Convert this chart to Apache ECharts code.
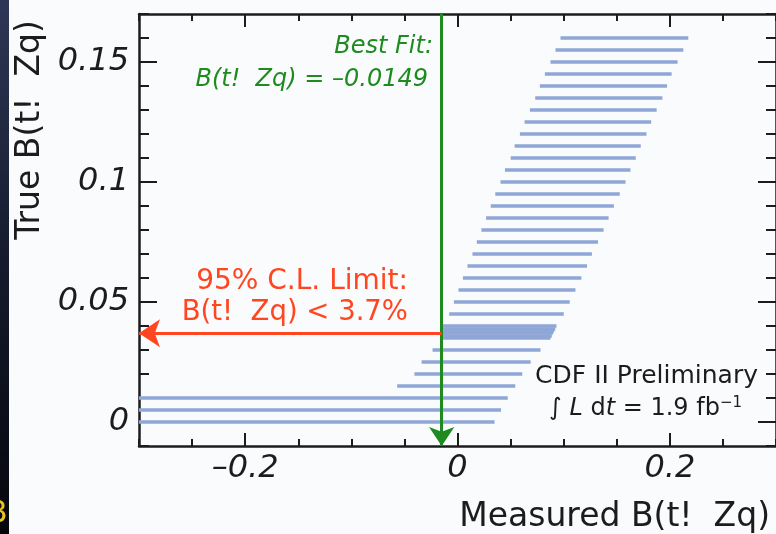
<!DOCTYPE html>
<html>
<head>
<meta charset="utf-8">
<script src="https://cdn.jsdelivr.net/npm/echarts@6/dist/echarts.min.js"></script>
<style>
html,body{margin:0;padding:0;background:#f9fbfc;}
#chart{width:776px;height:534px;}
</style>
</head>
<body>
<div id="chart"></div>
<script>
// True B values of each acceptance band (horizontal segments)
var trueB = [0, 0.005, 0.01, 0.015, 0.02, 0.025, 0.03,
  0.035, 0.036, 0.037, 0.038, 0.039, 0.04,
  0.045, 0.05, 0.055, 0.06, 0.065, 0.07, 0.075, 0.08, 0.085, 0.09, 0.095,
  0.1, 0.105, 0.11, 0.115, 0.12, 0.125, 0.13, 0.135, 0.14, 0.145, 0.15, 0.155, 0.16];
// Lower end of measured range
var measLow = [-0.3, -0.3, -0.3, -0.0568, -0.0406, -0.0338, -0.0235,
  -0.0149, -0.0149, -0.0149, -0.0149, -0.0149, -0.0149,
  -0.0078, -0.0034, 0.0009, 0.0051, 0.0094, 0.0141, 0.0182, 0.0225, 0.0269, 0.0313, 0.0356,
  0.0405, 0.0447, 0.0501, 0.0538, 0.0588, 0.0632, 0.0682, 0.0732, 0.0776, 0.0823, 0.0876, 0.0923, 0.0970];
// Upper end of measured range
var measHigh = [0.0349, 0.0410, 0.0473, 0.0544, 0.0610, 0.0689, 0.0782,
  0.0876, 0.0888, 0.0899, 0.0910, 0.0921, 0.0932,
  0.1001, 0.1057, 0.1111, 0.1167, 0.1220, 0.1266, 0.1323, 0.1376, 0.1423, 0.1473, 0.1528,
  0.1583, 0.1629, 0.1679, 0.1726, 0.1780, 0.1824, 0.1876, 0.1930, 0.1974, 0.2017, 0.2073, 0.2127, 0.2174];
var bestFit = -0.0149;
var limit95 = 0.037;
var xMajorTicks = [-0.2, 0, 0.2];
var yMajorTicks = [0, 0.05, 0.1, 0.15];

var FONT = 'DejaVu Sans';
var AX = '#1c1c1c';

function fmt(v) {
  v = Math.round(v * 1000) / 1000;
  if (v === 0) return '0';
  return (v < 0 ? '\u2013' : '') + String(Math.abs(v));
}

var bandData = trueB.map(function (y, i) {
  return { coords: [[measLow[i], y], [measHigh[i], y]] };
});

function minorAxis(pos, isX, len) {
  return {
    type: 'value', position: pos,
    min: isX ? -0.3 : -0.01, max: isX ? 0.3 : 0.17,
    interval: isX ? 0.05 : 0.01,
    axisLine: { show: true, onZero: false, lineStyle: { color: AX, width: 2.5 } },
    axisTick: { show: true, inside: true, length: len, lineStyle: { color: AX, width: 2 } },
    axisLabel: { show: false },
    splitLine: { show: false }
  };
}
function majorAxis(pos, isX, len, labels) {
  var vals = isX ? xMajorTicks : yMajorTicks;
  return {
    type: 'value', position: pos,
    min: isX ? -0.3 : -0.01, max: isX ? 0.3 : 0.17,
    axisLine: { show: false, onZero: false },
    axisTick: { show: true, inside: true, length: len, customValues: vals, lineStyle: { color: AX, width: 2 } },
    axisLabel: labels ? {
      show: true, customValues: vals, formatter: fmt,
      fontFamily: FONT, fontStyle: 'italic', fontSize: 32, color: AX,
      margin: isX ? 7 : 10
    } : { show: false },
    splitLine: { show: false }
  };
}

var chart = echarts.init(document.getElementById('chart'), null, { renderer: 'canvas' });
chart.setOption({
  backgroundColor: '#f9fbfc',
  animation: false,
  grid: { left: 139, top: 14, width: 638, height: 432, containLabel: false },
  xAxis: [
    minorAxis('bottom', true, 7),
    majorAxis('bottom', true, 13, true),
    minorAxis('top', true, 7),
    majorAxis('top', true, 13, false)
  ],
  yAxis: [
    minorAxis('left', false, 10),
    majorAxis('left', false, 18, true),
    minorAxis('right', false, 10),
    majorAxis('right', false, 18, false)
  ],
  series: [
    {
      type: 'lines', coordinateSystem: 'cartesian2d', xAxisIndex: 0, yAxisIndex: 0,
      polyline: false, symbol: 'none',
      lineStyle: { color: '#8ea7d7', width: 3.5, opacity: 1, cap: 'butt' },
      data: bandData, z: 2
    },
    {
      type: 'lines', coordinateSystem: 'cartesian2d', xAxisIndex: 0, yAxisIndex: 0,
      symbol: ['none', 'arrow'], symbolSize: 19,
      lineStyle: { color: '#1f8a1f', width: 3, opacity: 1 },
      itemStyle: { color: '#1f8a1f' },
      data: [{ coords: [[bestFit, 0.17], [bestFit, -0.01]] }], z: 4
    },
    {
      type: 'lines', coordinateSystem: 'cartesian2d', xAxisIndex: 0, yAxisIndex: 0,
      symbol: ['none', 'arrow'], symbolSize: 21,
      lineStyle: { color: '#ff4620', width: 3, opacity: 1 },
      itemStyle: { color: '#ff4620' },
      data: [{ coords: [[bestFit, limit95], [-0.3, limit95]] }], z: 4
    }
  ],
  graphic: [
    { type: 'rect', shape: { x: 0, y: 0, width: 9, height: 534 }, z: 10,
      style: { fill: new echarts.graphic.LinearGradient(0, 0, 0, 1, [
        { offset: 0, color: '#2e3756' }, { offset: 0.5, color: '#151a2c' }, { offset: 1, color: '#06060c' }]) } },
    { type: 'text', x: -13, y: 514, z: 11,
      style: { text: 'B', font: '30px ' + FONT, fill: '#e8c21e', verticalAlign: 'middle' } },
    { type: 'text', x: 30, y: 130, rotation: Math.PI / 2, z: 11,
      style: { text: 'True B(t!  Zq)', font: '33px ' + FONT, fill: AX, align: 'center', verticalAlign: 'middle' } },
    { type: 'text', x: 770, y: 517, z: 11,
      style: { text: 'Measured B(t!  Zq)', font: '33px ' + FONT, fill: AX, align: 'right', verticalAlign: 'middle' } },
    { type: 'text', x: 433, y: 47, z: 11,
      style: { text: 'Best Fit:', font: 'italic 24px ' + FONT, fill: '#1f8a1f', align: 'right', verticalAlign: 'middle' } },
    { type: 'text', x: 428, y: 80, z: 11,
      style: { text: 'B(t!  Zq) = \u20130.0149', font: 'italic 24px ' + FONT, fill: '#1f8a1f', align: 'right', verticalAlign: 'middle' } },
    { type: 'text', x: 408, y: 282, z: 11,
      style: { text: '95% C.L. Limit:', font: '28px ' + FONT, fill: '#ff4620', align: 'right', verticalAlign: 'middle' } },
    { type: 'text', x: 408, y: 313, z: 11,
      style: { text: 'B(t!  Zq) < 3.7%', font: '27.5px ' + FONT, fill: '#ff4620', align: 'right', verticalAlign: 'middle' } },
    { type: 'text', x: 758, y: 376, z: 11,
      style: { text: 'CDF II Preliminary', font: '25px ' + FONT, fill: AX, align: 'right', verticalAlign: 'middle' } },
    { type: 'text', x: 742, y: 409, z: 11,
      style: {
        text: '\u222B {i|L} d{i|t} = 1.9 fb{s|\u22121}', font: '24px ' + FONT, fill: AX, align: 'right', verticalAlign: 'middle',
        rich: {
          i: { fontFamily: FONT, fontStyle: 'italic', fontSize: 24, fill: AX },
          s: { fontFamily: FONT, fontSize: 15, fill: AX, verticalAlign: 'top', padding: [0, 0, 12, 0] }
        }
      } }
  ]
});
</script>
</body>
</html>
